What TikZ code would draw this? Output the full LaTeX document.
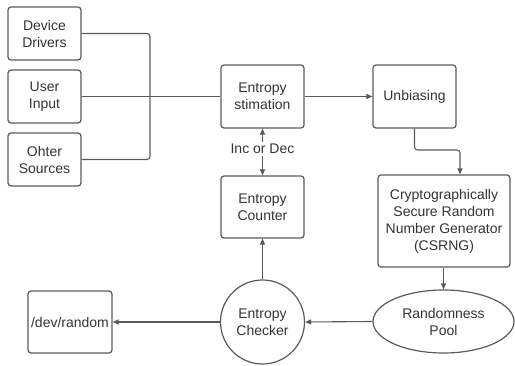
\documentclass[tikz,border=0pt]{standalone}
\usepackage{fontspec}
\setmainfont{Liberation Sans}
\usetikzlibrary{arrows.meta,shapes.geometric}
\definecolor{edge}{HTML}{5A5A5A}
\definecolor{ink}{HTML}{333333}
\begin{document}
\begin{tikzpicture}[x=1pt,y=-1pt,
  every node/.style={text=ink,font=\fontsize{14}{17}\selectfont,align=center,inner sep=0pt},
  box/.style={draw=edge,line width=1.2pt,rounded corners=3pt,minimum width=83pt,minimum height=63pt},
  srcbox/.style={box,minimum width=73pt,minimum height=53pt},
  link/.style={draw=edge,line width=1.1pt},
  flow/.style={link,-{Triangle[length=6pt,width=5pt]}}]
\useasboundingbox (0,0) rectangle (515,366);

% input sources
\node[srcbox] (dd) at (44.5,33.5) {Device\\Drivers};
\node[srcbox] (ui) at (44.5,96.5) {User\\Input};
\node[srcbox] (os) at (44.5,159.5) {Ohter\\Sources};

% processing chain
\node[box] (es) at (262.5,96.5) {Entropy\\stimation};
\node[box] (ub) at (414.5,96.5) {Unbiasing};
\node[box,minimum height=62pt] (ec) at (262.5,207) {Entropy\\Counter};
\node[box,minimum width=132pt,minimum height=92pt] (cs) at (444,221)
  {Cryptographically\\Secure Random\\Number Generator\\(CSRNG)};
\node[draw=edge,line width=1.2pt,ellipse,minimum width=141pt,minimum height=63pt] (rp) at (443.5,321.5) {Randomness\\Pool};
\node[draw=edge,line width=1.2pt,circle,minimum size=84pt] (ck) at (262.5,322) {Entropy\\Checker};
\node[box,minimum width=84pt,minimum height=62pt] (dr) at (70,322) {/dev/random};
\node (inc) at (262.5,149) {Inc or Dec};

% merging the sources
\coordinate (j) at (150,96.5);
\draw[link,rounded corners=3pt] (dd.east) -| (j);
\draw[link,rounded corners=3pt] (os.east) -| (j);
\draw[link] (ui.east) -- (es.west);

% main flow
\draw[flow] (es.east) -- (ub.west);
\draw[flow,rounded corners=3pt] (ub.south) -- (414.5,150) -| (cs.north -| 460,0);
\draw[flow] (cs.south -| 443.5,0) -- (rp.north);
\draw[flow] (rp.west) -- (ck.east);
\draw[flow] (ck.west) -- (dr.east);
\draw[flow] (ck.north) -- (ec.south);
\draw[flow] (inc.north) ++(0,-2) -- (es.south);
\draw[flow] (inc.south) ++(0,2) -- (ec.north);
\end{tikzpicture}
\end{document}
